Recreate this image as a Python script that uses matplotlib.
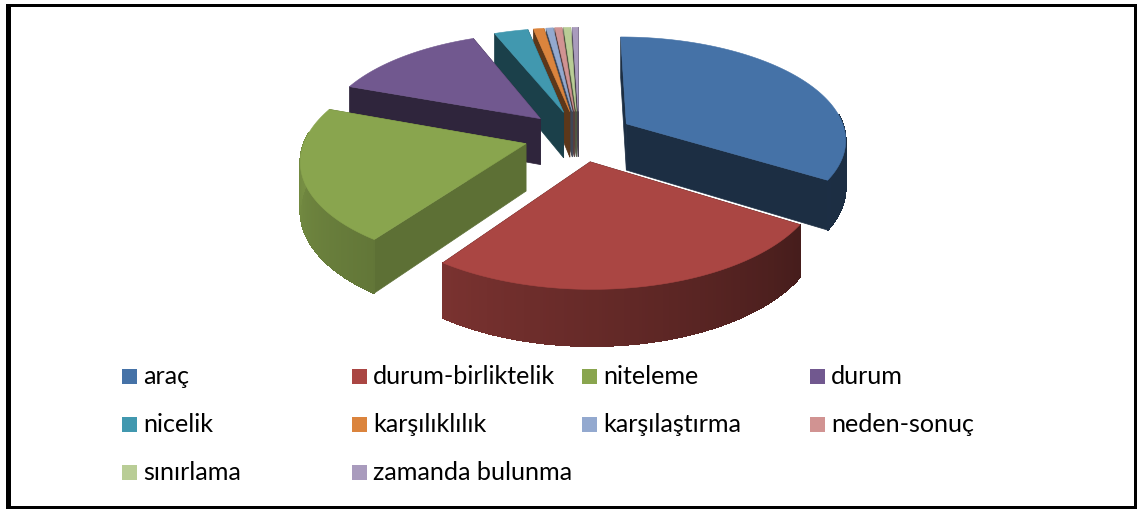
import numpy as np
import matplotlib
matplotlib.use("Agg")
import matplotlib.pyplot as plt
from matplotlib.patches import Polygon, Rectangle

labels = ["araç", "durum-birliktelik", "niteleme", "durum", "nicelik",
          "karşılıklılık", "karşılaştırma", "neden-sonuç", "sınırlama", "zamanda bulunma"]
values = [33.9, 25.9, 20.8, 13.3, 2.9, 0.9, 0.6, 0.6, 0.6, 0.5]
colors = ["#4572A7", "#AA4643", "#89A54E", "#71588F", "#4198AF",
          "#DB843D", "#93A9CF", "#D19392", "#B9CD96", "#A99BBD"]
wall_shade = [0.4, 0.4, 0.68, 0.42, 0.42, 0.42, 0.42, 0.42, 0.42, 0.42]

# pie geometry in pixels
CX, CY = 579, 136
RX, KY = 220, 102
PERSP = 0.138
DEPTH = 47
EXPLODE = 0.25


def project(u, v):
    s = 1 / (1 + PERSP * v)
    return CX + u * RX * s, CY - v * KY * s, s


def rim_shade(t):
    return np.interp(t, [0, 119, 216, 293, 360], [0.4, 0.4, 0.72, 0.92, 0.92])


def shade(col, f):
    return tuple(np.array(matplotlib.colors.to_rgb(col)) * f)


fig = plt.figure(figsize=(11.37, 5.09), dpi=100)
ax = fig.add_axes([0, 0, 1, 1])
ax.set_xlim(0, 1137)
ax.set_ylim(509, 0)
ax.axis("off")

# frame
ax.add_patch(Rectangle((6, 4), 1131, 505, fc="black", ec="none", zorder=0))
ax.add_patch(Rectangle((11, 7), 1122.5, 499, fc="white", ec="none", zorder=0))

frac = np.array(values) / sum(values) * 360
ends = np.cumsum(frac)
starts = ends - frac

# back slices first
order = sorted(range(len(values)), key=lambda i: np.cos(np.radians((starts[i] + ends[i]) / 2)), reverse=True)
for i in order:
    mid = np.radians((starts[i] + ends[i]) / 2)
    ou, ov = EXPLODE * np.sin(mid), EXPLODE * np.cos(mid)
    th = np.radians(np.linspace(starts[i], ends[i], max(4, int(frac[i] * 1.5))))
    u = ou + np.sin(th)
    v = ov + np.cos(th)
    x, y, s = project(u, v)
    ax0, ay0, as0 = project(ou, ov)
    wall = shade(colors[i], wall_shade[i])

    # straight walls from the apex
    for j in (0, -1):
        ax.add_patch(Polygon([(ax0, ay0), (x[j], y[j]), (x[j], y[j] + DEPTH * s[j]), (ax0, ay0 + DEPTH * as0)],
                             fc=wall, ec=wall, lw=0.5, zorder=2))
    # outer rim, only the part that faces the viewer
    for j in range(len(th) - 1):
        if np.cos(th[j]) > 0.1:
            continue
        c = shade(colors[i], rim_shade(np.degrees(th[j])))
        ax.add_patch(Polygon([(x[j], y[j]), (x[j + 1], y[j + 1]),
                              (x[j + 1], y[j + 1] + DEPTH * s[j + 1]), (x[j], y[j] + DEPTH * s[j])],
                             fc=c, ec=c, lw=0.6, antialiased=False, zorder=2))
    # top face
    ax.add_patch(Polygon(np.column_stack([np.r_[ax0, x], np.r_[ay0, y]]), fc=colors[i], ec=colors[i], lw=0.4, zorder=2))

# legend, filled row by row
col_x = [122, 352, 582, 810]
row_y = [376.5, 424.5, 472.5]
for i, lab in enumerate(labels):
    px = col_x[i % 4]
    py = row_y[i // 4]
    ax.add_patch(Rectangle((px, py - 7.5), 15, 15, fc=colors[i], ec="none"))
    ax.text(px + 21, py, lab, family="Lato", fontsize=18.1, color="black", va="center", ha="left")

fig.savefig("out.png", dpi=100)
